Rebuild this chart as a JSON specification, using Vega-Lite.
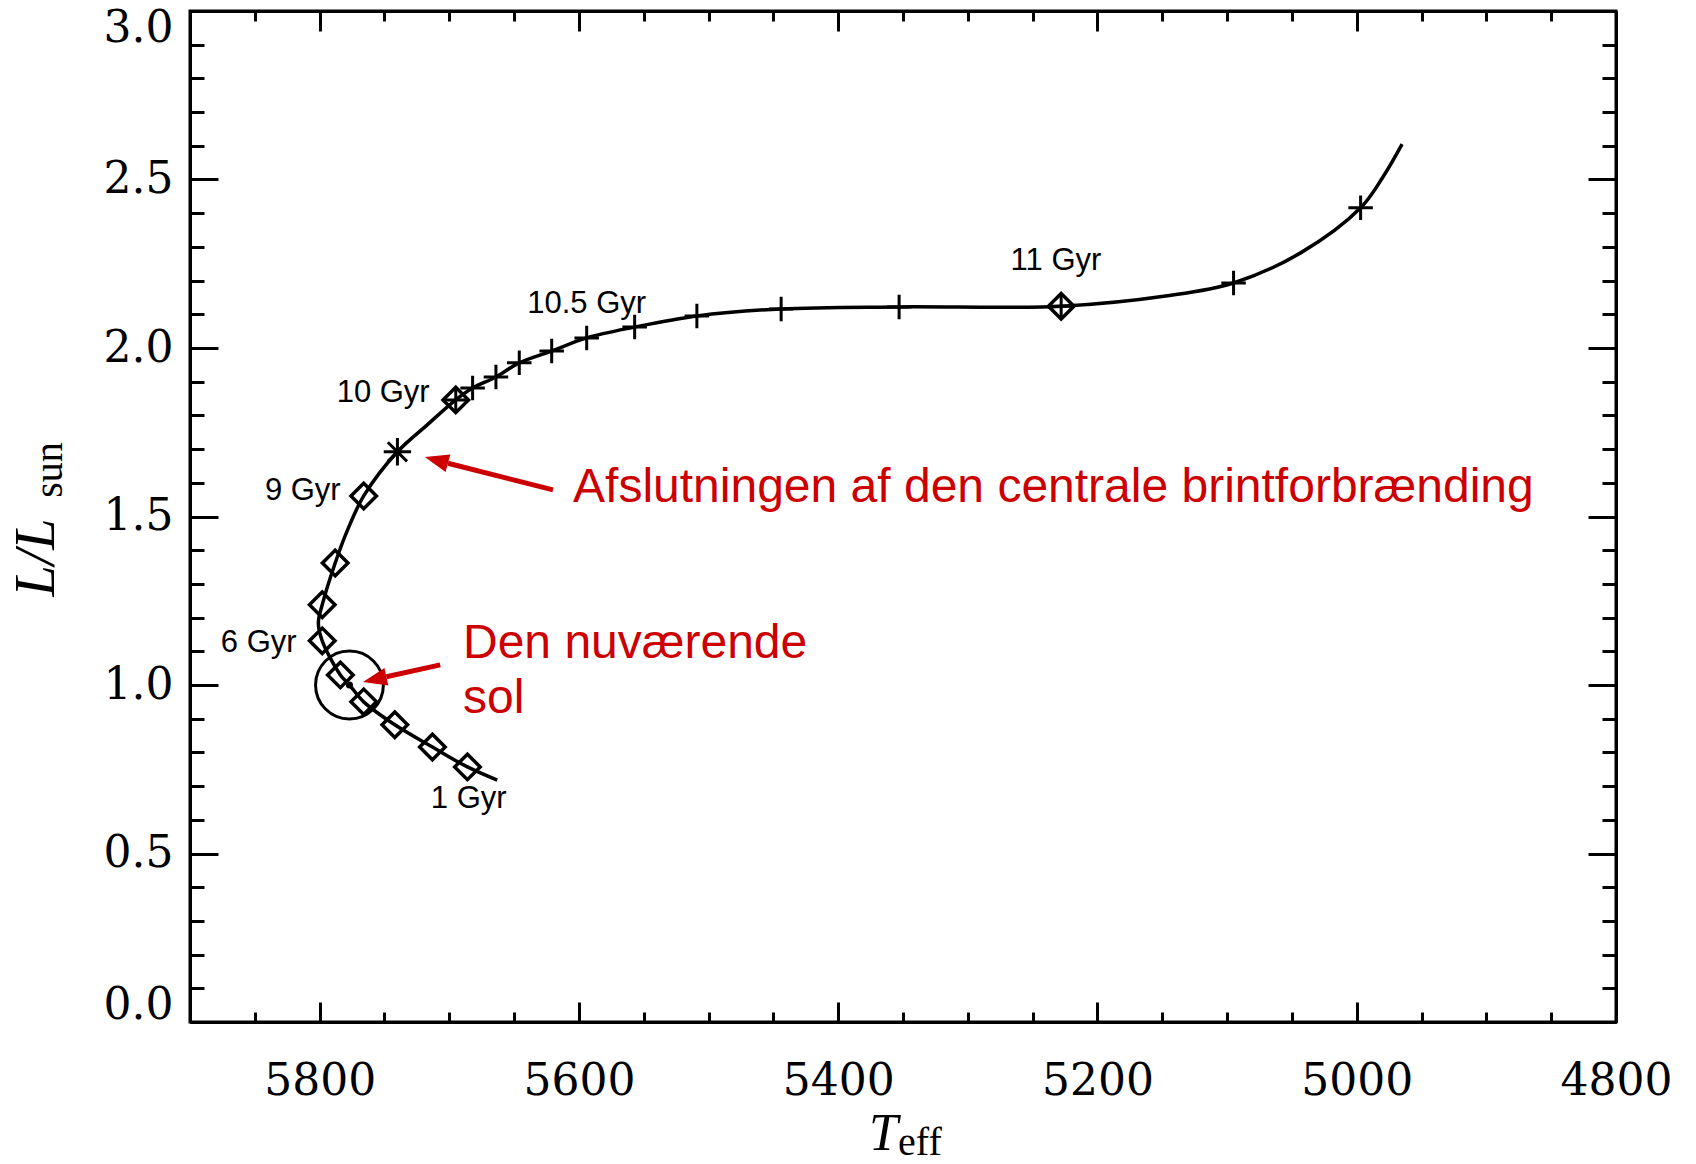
{
  "$schema": "https://vega.github.io/schema/vega-lite/v6.json",
  "width": 1426,
  "height": 1011,
  "autosize": {"type": "none"},
  "padding": {"left": 190, "top": 11, "right": 80, "bottom": 142},
  "background": "white",
  "config": {"view": {"stroke": "black", "strokeWidth": 3}, "axis": {"grid": false}},
  "datasets": {
    "track": [
      {"T": 5663, "L": 0.718}, {"T": 5686, "L": 0.757}, {"T": 5713, "L": 0.816}, {"T": 5742, "L": 0.882},
      {"T": 5766, "L": 0.950}, {"T": 5777, "L": 1.0}, {"T": 5784, "L": 1.030}, {"T": 5798, "L": 1.131},
      {"T": 5801, "L": 1.185}, {"T": 5798, "L": 1.238}, {"T": 5788, "L": 1.362}, {"T": 5779, "L": 1.455},
      {"T": 5766, "L": 1.561}, {"T": 5740, "L": 1.692}, {"T": 5717, "L": 1.772}, {"T": 5695, "L": 1.846},
      {"T": 5682, "L": 1.881}, {"T": 5664, "L": 1.914}, {"T": 5646, "L": 1.956}, {"T": 5621, "L": 1.991},
      {"T": 5594, "L": 2.030}, {"T": 5557, "L": 2.062}, {"T": 5509, "L": 2.095}, {"T": 5444, "L": 2.116},
      {"T": 5353, "L": 2.122}, {"T": 5228, "L": 2.124}, {"T": 5146, "L": 2.155}, {"T": 5095, "L": 2.193},
      {"T": 5043, "L": 2.283}, {"T": 4997, "L": 2.416}, {"T": 4980, "L": 2.506}, {"T": 4965, "L": 2.605}
    ],
    "diamonds": [
      {"T": 5686, "L": 0.757}, {"T": 5713, "L": 0.816}, {"T": 5742, "L": 0.882}, {"T": 5766, "L": 0.950},
      {"T": 5784, "L": 1.030}, {"T": 5798, "L": 1.131}, {"T": 5798, "L": 1.238}, {"T": 5788, "L": 1.362},
      {"T": 5766, "L": 1.561}, {"T": 5695, "L": 1.846}, {"T": 5228, "L": 2.124}
    ],
    "crosses": [
      {"T": 5695, "L": 1.846}, {"T": 5682, "L": 1.881}, {"T": 5664, "L": 1.914}, {"T": 5646, "L": 1.956},
      {"T": 5621, "L": 1.991}, {"T": 5594, "L": 2.030}, {"T": 5557, "L": 2.062}, {"T": 5509, "L": 2.095},
      {"T": 5444, "L": 2.116}, {"T": 5353, "L": 2.122}, {"T": 5228, "L": 2.124}, {"T": 5095, "L": 2.193},
      {"T": 4997, "L": 2.416}
    ],
    "star": [{"T": 5740, "L": 1.692}],
    "sun": [{"T": 5777, "L": 1.0}],
    "ages": [
      {"T": 5685, "L": 0.635, "label": "1 Gyr"},
      {"T": 5847, "L": 1.099, "label": "6 Gyr"},
      {"T": 5813, "L": 1.549, "label": "9 Gyr"},
      {"T": 5751, "L": 1.840, "label": "10 Gyr"},
      {"T": 5594, "L": 2.105, "label": "10.5 Gyr"},
      {"T": 5232, "L": 2.232, "label": "11 Gyr"}
    ],
    "notes": [
      {"T": 5604.5, "L": 1.543, "label": "Afslutningen af den centrale brintforbrænding"},
      {"T": 5689.4, "L": 1.080, "label": "Den nuværende"},
      {"T": 5689.4, "L": 0.917, "label": "sol"}
    ],
    "arrows": [
      {"id": "end", "T": 5620, "L": 1.579, "T2": 5701, "L2": 1.658},
      {"id": "sun", "T": 5707, "L": 1.0596, "T2": 5748.5, "L2": 1.0245}
    ],
    "subs": [
      {"id": "x", "T": 5353.8, "L": -0.394, "label": "eff"},
      {"id": "y", "T": 5998.7, "L": 1.638, "label": "sun"}
    ]
  },
  "layer": [
    {
      "data": {"name": "track"},
      "mark": {"type": "line", "interpolate": "catmull-rom", "color": "black", "strokeWidth": 3.5},
      "encoding": {
        "x": {
          "field": "T", "type": "quantitative",
          "scale": {"domain": [4800, 5900], "reverse": true, "nice": false, "zero": false},
          "axis": {
            "orient": "bottom",
            "values": [4800,4850,4900,4950,5000,5050,5100,5150,5200,5250,5300,5350,5400,5450,5500,5550,5600,5650,5700,5750,5800,5850,5900],
            "labelExpr": "datum.value % 200 === 0 ? format(datum.value, 'd') : ''",
            "labelOverlap": false, "labelFlush": false,
            "labelFont": "DejaVu Serif", "labelFontSize": 44, "labelColor": "black",
            "labelBaseline": "alphabetic", "labelPadding": 92,
            "tickSize": {"condition": {"test": "datum.value % 200 === 0", "value": -20}, "value": -10},
            "tickWidth": 3, "tickColor": "black",
            "domainWidth": 3, "domainColor": "black",
            "title": "T", "titleFont": "Liberation Serif", "titleFontStyle": "italic", "titleFontWeight": "normal",
            "titleFontSize": 52, "titleColor": "black",
            "titleX": 693, "titleY": 127, "titleBaseline": "alphabetic", "titleAlign": "center", "titleAngle": 0
          }
        },
        "y": {
          "field": "L", "type": "quantitative",
          "scale": {"domain": [0, 3], "nice": false, "zero": false},
          "axis": {
            "orient": "left",
            "values": [0,0.1,0.2,0.3,0.4,0.5,0.6,0.7,0.8,0.9,1,1.1,1.2,1.3,1.4,1.5,1.6,1.7,1.8,1.9,2,2.1,2.2,2.3,2.4,2.5,2.6,2.7,2.8,2.9,3],
            "labelExpr": "indexof([0,0.5,1,1.5,2,2.5,3], datum.value) >= 0 ? format(datum.value, '.1f') : ''",
            "labelOverlap": false, "labelFlush": true, "labelFlushOffset": 5,
            "labelFont": "DejaVu Serif", "labelFontSize": 44, "labelColor": "black",
            "labelPadding": 45,
            "tickSize": {"condition": {"test": "indexof([0,0.5,1,1.5,2,2.5,3], datum.value) >= 0", "value": -28}, "value": -14},
            "tickWidth": 3, "tickColor": "black",
            "domainWidth": 3, "domainColor": "black",
            "title": "L/L", "titleFont": "Liberation Serif", "titleFontStyle": "italic", "titleFontWeight": "normal",
            "titleFontSize": 56, "titleColor": "black",
            "titleX": -137, "titleY": 546, "titleAngle": 270, "titleBaseline": "alphabetic", "titleAlign": "center"
          }
        },
        "order": {"value": null}
      }
    },
    {
      "data": {"name": "diamonds"},
      "mark": {"type": "point", "shape": "diamond", "filled": false, "stroke": "black", "strokeWidth": 3.5, "size": 650, "opacity": 1},
      "encoding": {
        "x": {
          "field": "T", "type": "quantitative",
          "axis": {
            "orient": "top",
            "values": [4800,4850,4900,4950,5000,5050,5100,5150,5200,5250,5300,5350,5400,5450,5500,5550,5600,5650,5700,5750,5800,5850,5900],
            "labels": false, "title": null,
            "tickSize": {"condition": {"test": "datum.value % 200 === 0", "value": -20}, "value": -10},
            "tickWidth": 3, "tickColor": "black",
            "domainWidth": 3, "domainColor": "black"
          }
        },
        "y": {
          "field": "L", "type": "quantitative",
          "axis": {
            "orient": "right",
            "values": [0,0.1,0.2,0.3,0.4,0.5,0.6,0.7,0.8,0.9,1,1.1,1.2,1.3,1.4,1.5,1.6,1.7,1.8,1.9,2,2.1,2.2,2.3,2.4,2.5,2.6,2.7,2.8,2.9,3],
            "labels": false, "title": null,
            "tickSize": {"condition": {"test": "indexof([0,0.5,1,1.5,2,2.5,3], datum.value) >= 0", "value": -28}, "value": -14},
            "tickWidth": 3, "tickColor": "black",
            "domainWidth": 3, "domainColor": "black"
          }
        }
      }
    },
    {
      "data": {"name": "crosses"},
      "mark": {"type": "point", "shape": "M-1,0H1M0,-1V1", "filled": false, "stroke": "black", "strokeWidth": 3, "size": 600, "opacity": 1},
      "encoding": {
        "x": {"field": "T", "type": "quantitative", "axis": null},
        "y": {"field": "L", "type": "quantitative", "axis": null}
      }
    },
    {
      "data": {"name": "star"},
      "mark": {"type": "point", "shape": "M-1,0H1M0,-1V1M-0.7,-0.7L0.7,0.7M-0.7,0.7L0.7,-0.7", "filled": false, "stroke": "black", "strokeWidth": 3, "size": 750, "opacity": 1},
      "encoding": {
        "x": {"field": "T", "type": "quantitative", "axis": null},
        "y": {"field": "L", "type": "quantitative", "axis": null}
      }
    },
    {
      "data": {"name": "sun"},
      "mark": {"type": "point", "shape": "circle", "filled": false, "stroke": "black", "strokeWidth": 3, "size": 4600, "opacity": 1},
      "encoding": {
        "x": {"field": "T", "type": "quantitative", "axis": null},
        "y": {"field": "L", "type": "quantitative", "axis": null}
      }
    },
    {
      "data": {"name": "sun"},
      "mark": {"type": "point", "shape": "circle", "filled": true, "color": "black", "size": 50, "opacity": 1},
      "encoding": {
        "x": {"field": "T", "type": "quantitative", "axis": null},
        "y": {"field": "L", "type": "quantitative", "axis": null}
      }
    },
    {
      "data": {"name": "ages"},
      "mark": {"type": "text", "font": "Liberation Sans", "fontSize": 31, "color": "black", "align": "center", "baseline": "alphabetic"},
      "encoding": {
        "x": {"field": "T", "type": "quantitative", "axis": null},
        "y": {"field": "L", "type": "quantitative", "axis": null},
        "text": {"field": "label"}
      }
    },
    {
      "data": {"name": "notes"},
      "mark": {"type": "text", "font": "Liberation Sans", "fontSize": 48, "color": "#CC0000", "align": "left", "baseline": "alphabetic"},
      "encoding": {
        "x": {"field": "T", "type": "quantitative", "axis": null},
        "y": {"field": "L", "type": "quantitative", "axis": null},
        "text": {"field": "label"}
      }
    },
    {
      "data": {"name": "arrows"},
      "mark": {"type": "rule", "color": "#CC0000", "strokeWidth": 5},
      "encoding": {
        "x": {"field": "T", "type": "quantitative", "axis": null},
        "y": {"field": "L", "type": "quantitative", "axis": null},
        "x2": {"field": "T2"},
        "y2": {"field": "L2"}
      }
    },
    {
      "data": {"name": "arrows"},
      "transform": [{"filter": "datum.id === 'end'"}],
      "mark": {"type": "point", "shape": "M0,-2L0.75,0L-0.75,0Z", "filled": true, "color": "#CC0000", "size": 576, "angle": 285.4, "opacity": 1},
      "encoding": {
        "x": {"field": "T2", "type": "quantitative", "axis": null},
        "y": {"field": "L2", "type": "quantitative", "axis": null}
      }
    },
    {
      "data": {"name": "arrows"},
      "transform": [{"filter": "datum.id === 'sun'"}],
      "mark": {"type": "point", "shape": "M0,-2L0.75,0L-0.75,0Z", "filled": true, "color": "#CC0000", "size": 576, "angle": 257.6, "opacity": 1},
      "encoding": {
        "x": {"field": "T2", "type": "quantitative", "axis": null},
        "y": {"field": "L2", "type": "quantitative", "axis": null}
      }
    },
    {
      "data": {"name": "subs"},
      "transform": [{"filter": "datum.id === 'x'"}],
      "mark": {"type": "text", "font": "Liberation Serif", "fontSize": 40, "color": "black", "align": "left", "baseline": "alphabetic"},
      "encoding": {
        "x": {"field": "T", "type": "quantitative", "axis": null},
        "y": {"field": "L", "type": "quantitative", "axis": null},
        "text": {"field": "label"}
      }
    },
    {
      "data": {"name": "subs"},
      "transform": [{"filter": "datum.id === 'y'"}],
      "mark": {"type": "text", "font": "Liberation Serif", "fontSize": 40, "color": "black", "align": "center", "baseline": "alphabetic", "angle": 270},
      "encoding": {
        "x": {"field": "T", "type": "quantitative", "axis": null},
        "y": {"field": "L", "type": "quantitative", "axis": null},
        "text": {"field": "label"}
      }
    }
  ],
  "resolve": {"axis": {"x": "independent", "y": "independent"}}
}
